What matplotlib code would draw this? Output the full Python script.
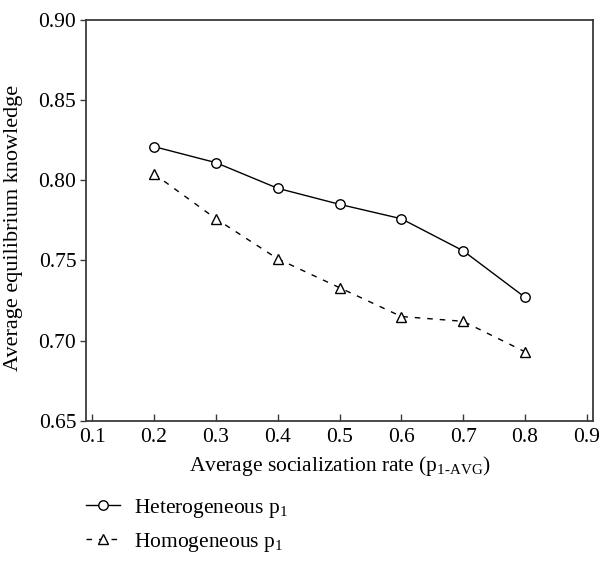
import matplotlib
matplotlib.use("Agg")
import matplotlib.pyplot as plt

# Average socialization rate values on the x axis
rates = [0.2, 0.3, 0.4, 0.5, 0.6, 0.7, 0.8]
# Average equilibrium knowledge for each p1 setting
heterogeneous = [0.821, 0.811, 0.795, 0.785, 0.776, 0.756, 0.727]
homogeneous = [0.804, 0.776, 0.751, 0.733, 0.715, 0.712, 0.693]

x_ticks = [0.1, 0.2, 0.3, 0.4, 0.5, 0.6, 0.7, 0.8, 0.9]
y_ticks = [0.65, 0.70, 0.75, 0.80, 0.85, 0.90]

plt.rcParams["font.family"] = ["Liberation Serif", "DejaVu Serif"]
plt.rcParams["mathtext.fontset"] = "custom"
plt.rcParams["mathtext.rm"] = "Liberation Serif"
plt.rcParams["mathtext.it"] = "Liberation Serif"

FS = 15.5

fig = plt.figure(figsize=(6.11, 5.81), dpi=100)
ax = fig.add_axes([0.1408, 0.2759, 0.8297, 0.6897])

ax.plot(rates, heterogeneous, color="black", lw=1.0, marker="o", ms=6.8,
        mfc="white", mec="black", mew=1.0, label=r"Heterogeneous p$_\mathregular{1}$")
ax.plot(rates, homogeneous, color="black", lw=1.0, ls=(0, (4, 5)), marker="^",
        ms=7.5, mfc="white", mec="black", mew=1.0, label=r"Homogeneous p$_\mathregular{1}$")

ax.set_xlim(0.09, 0.91)
ax.set_ylim(0.65, 0.90)
ax.set_xticks(x_ticks)
ax.set_xticklabels([f"{v:.1f}" for v in x_ticks])
ax.set_yticks(y_ticks)
ax.set_yticklabels([f"{v:.2f}" for v in y_ticks])

spine_color = "#3a3a3a"
for s in ax.spines.values():
    s.set_color(spine_color)
    s.set_linewidth(1.3)

ax.tick_params(axis="x", direction="in", length=5, width=1.0, color=spine_color,
               labelsize=FS, pad=5)
ax.tick_params(axis="y", direction="out", length=4, width=1.0, color=spine_color,
               labelsize=FS, pad=3)

ax.set_xlabel(r"Average socialization rate (p$_\mathregular{1\text{-}AVG}$)",
              fontsize=FS, labelpad=5)
ax.set_ylabel("Average equilibrium knowledge", fontsize=16, labelpad=5)
ax.yaxis.set_label_coords(-0.125, 0.48)

ax.legend(loc="upper left", bbox_to_anchor=(86 / 611, 1 - 497 / 581),
          bbox_transform=fig.transFigure, frameon=False,
          fontsize=FS, handlelength=1.6, handletextpad=0.65, labelspacing=0.5,
          borderaxespad=0, borderpad=0)

fig.savefig("out.png", dpi=100)
